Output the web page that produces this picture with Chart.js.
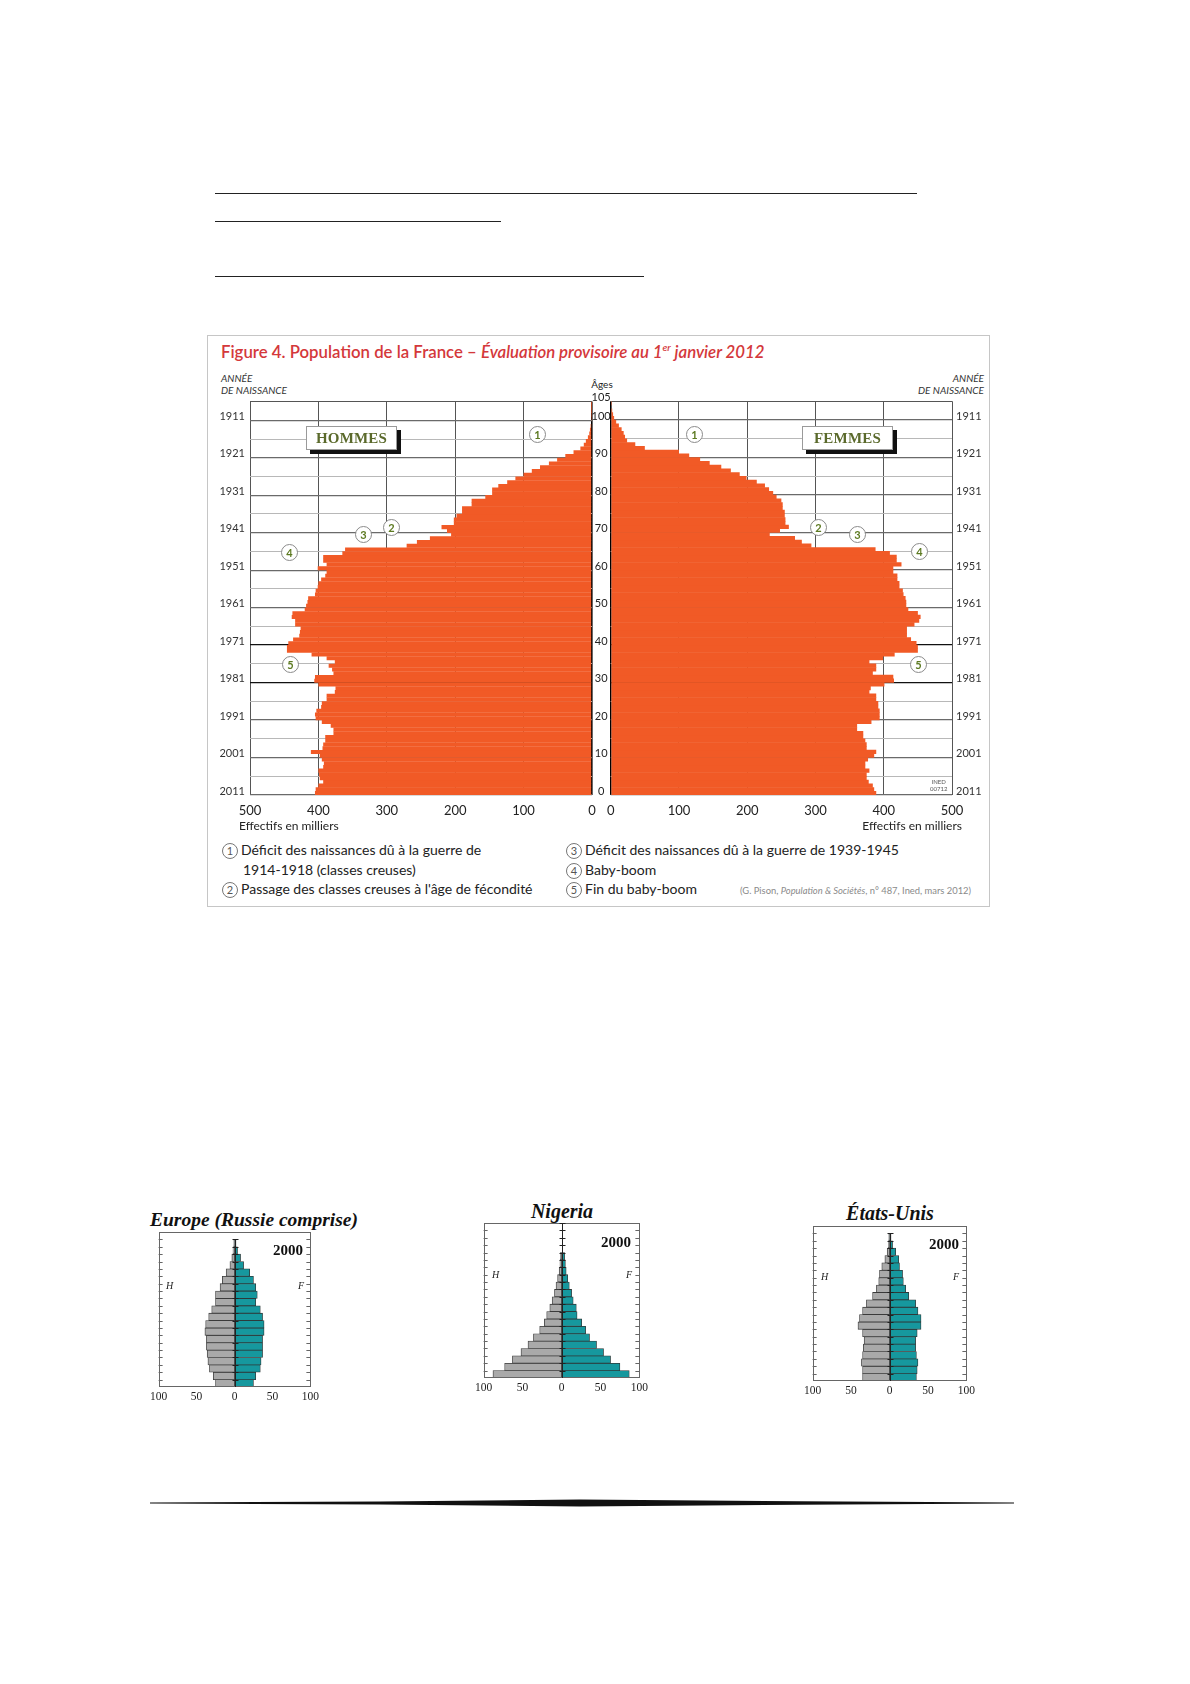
<!DOCTYPE html>
<html><head><meta charset="utf-8">
<script src="https://cdn.jsdelivr.net/npm/chart.js@4"></script>
<style>
body{margin:0;background:#fff;}
#page{position:relative;width:1190px;height:1684px;overflow:hidden;font-family:Lato,"Open Sans",sans-serif;color:#222;}
.a{position:absolute;white-space:nowrap;}
.hl{position:absolute;height:1px;background:#222;}
canvas{position:absolute;}
.tag{position:absolute;background:#fff;border:1px solid #9a9a9a;box-shadow:4px 4px 0 #111;font-family:"Liberation Serif","DejaVu Serif",serif;font-weight:700;font-size:15px;color:#5b6a2c;text-align:center;line-height:22px;letter-spacing:0.2px;z-index:5;}
.c{position:absolute;width:15px;height:15px;border:1px solid #8a8a8a;border-radius:50%;background:#fff;color:#5d7a22;font-size:11px;font-weight:700;line-height:15px;text-align:center;z-index:5;}
.lc{display:inline-block;width:14px;height:14px;border:1px solid #777;border-radius:50%;font-size:11px;line-height:14px;text-align:center;color:#555;margin-right:3px;vertical-align:0px;}
.leg{position:absolute;font-size:14px;line-height:18px;color:#222;white-space:nowrap;}
.st{position:absolute;font-family:"Liberation Serif","DejaVu Serif",serif;font-weight:700;font-style:italic;font-size:20px;color:#111;white-space:nowrap;}
.yr{position:absolute;font-family:"Liberation Serif","DejaVu Serif",serif;font-weight:700;font-size:15px;color:#111;line-height:16px;}
.hf{position:absolute;font-family:"Liberation Serif","DejaVu Serif",serif;font-style:italic;font-size:10px;color:#222;}
</style></head><body><div id="page">

<div class="hl" style="left:215px;top:193px;width:702px;"></div>
<div class="hl" style="left:215px;top:221px;width:286px;"></div>
<div class="hl" style="left:215px;top:276px;width:429px;"></div>

<div class="a" style="left:207px;top:335px;width:781px;height:570px;border:1px solid #c6c6c6;"></div>
<div class="a" style="left:221px;top:336px;font-size:16.8px;font-weight:600;line-height:22px;color:#d4383b;">Figure 4. Population de la France – <i>Évaluation provisoire au 1<sup style="font-size:10px;">er</sup> janvier 2012</i></div>
<div class="a" style="left:221px;top:372px;font-size:10px;line-height:12px;font-style:italic;color:#333;">ANNÉE<br>DE NAISSANCE</div>
<div class="a" style="left:864px;width:120px;top:372px;font-size:10px;line-height:12px;font-style:italic;color:#333;text-align:right;">ANNÉE<br>DE NAISSANCE</div>
<div class="a" style="left:588px;width:28px;top:378px;font-size:10px;line-height:12px;text-align:center;color:#222;">Âges</div>

<canvas id="cL" width="412" height="440" style="left:200px;top:390px;"></canvas>
<canvas id="cR" width="397" height="440" style="left:592px;top:390px;"></canvas>

<div class="tag" style="left:306px;top:426px;width:89px;height:22px;">HOMMES</div>
<div class="tag" style="left:802px;top:426px;width:89px;height:22px;">FEMMES</div>

<div class="c" style="left:529px;top:426px;">1</div>
<div class="c" style="left:383px;top:519px;">2</div>
<div class="c" style="left:355px;top:526px;">3</div>
<div class="c" style="left:281px;top:544px;">4</div>
<div class="c" style="left:282px;top:656px;">5</div>
<div class="c" style="left:686px;top:426px;">1</div>
<div class="c" style="left:810px;top:519px;">2</div>
<div class="c" style="left:849px;top:526px;">3</div>
<div class="c" style="left:911px;top:543px;">4</div>
<div class="c" style="left:910px;top:656px;">5</div>

<div class="a" style="left:930px;top:778px;font-size:6px;line-height:7px;color:#555;text-align:center;">INED<br>00712</div>

<div class="a" style="left:239px;top:819px;font-size:12px;line-height:14px;color:#222;">Effectifs en milliers</div>
<div class="a" style="left:842px;width:120px;top:819px;font-size:12px;line-height:14px;color:#222;text-align:right;">Effectifs en milliers</div>

<div class="leg" style="left:222px;top:841px;"><span class="lc">1</span>Déficit des naissances dû à la guerre de</div>
<div class="leg" style="left:243px;top:861px;">1914-1918 (classes creuses)</div>
<div class="leg" style="left:222px;top:880px;"><span class="lc">2</span>Passage des classes creuses à l'âge de fécondité</div>
<div class="leg" style="left:566px;top:841px;"><span class="lc">3</span>Déficit des naissances dû à la guerre de 1939-1945</div>
<div class="leg" style="left:566px;top:861px;"><span class="lc">4</span>Baby-boom</div>
<div class="leg" style="left:566px;top:880px;"><span class="lc">5</span>Fin du baby-boom</div>
<div class="a" style="left:740px;top:885px;font-size:9.4px;line-height:11px;color:#8a8a8a;">(G. Pison, <i>Population &amp; Sociétés</i>, n° 487, Ined, mars 2012)</div>

<div class="st" style="left:150px;top:1207px;line-height:26px;font-size:19.5px;">Europe (Russie comprise)</div>
<div class="st" style="left:462px;width:200px;text-align:center;top:1198px;line-height:26px;">Nigeria</div>
<div class="st" style="left:790px;width:200px;text-align:center;top:1200px;line-height:26px;">États-Unis</div>

<canvas id="sE" width="175" height="176" style="left:147px;top:1232px;"></canvas>
<canvas id="sN" width="179" height="176" style="left:472px;top:1223px;"></canvas>
<canvas id="sU" width="177" height="176" style="left:801px;top:1226px;"></canvas>

<div class="yr" style="left:273px;top:1242px;">2000</div>
<div class="yr" style="left:601px;top:1234px;">2000</div>
<div class="yr" style="left:929px;top:1236px;">2000</div>
<div class="hf" style="left:166px;top:1280px;">H</div>
<div class="hf" style="left:298px;top:1280px;">F</div>
<div class="hf" style="left:492px;top:1269px;">H</div>
<div class="hf" style="left:626px;top:1269px;">F</div>
<div class="hf" style="left:821px;top:1271px;">H</div>
<div class="hf" style="left:953px;top:1271px;">F</div>

<svg class="a" style="left:0;top:0;" width="1190" height="1684"><polygon points="150,1502.6 380,1501.4 580,1499.6 800,1501.2 1014,1502.4 1014,1503.6 800,1504.8 580,1506.4 380,1504.6 150,1503.4" fill="#111"/></svg>

</div>
<script>
// ---- Main pyramid (France, 1 Jan 2012), thousands ----
const ages = [0,1,2,3,4,5,6,7,8,9,10,11,12,13,14,15,16,17,18,19,20,21,22,23,24,25,26,27,28,29,30,31,32,33,34,35,36,37,38,39,40,41,42,43,44,45,46,47,48,49,50,51,52,53,54,55,56,57,58,59,60,61,62,63,64,65,66,67,68,69,70,71,72,73,74,75,76,77,78,79,80,81,82,83,84,85,86,87,88,89,90,91,92,93,94,95,96,97,98,99,100,101,102,103,104];
const hommes = [405,404,400,393,398,399,400,393,392,395,398,411,394,393,390,390,378,378,382,395,404,405,403,396,395,388,388,376,375,400,406,405,378,380,385,376,388,410,446,446,444,437,428,427,426,434,434,439,438,420,418,416,415,405,404,401,400,396,390,388,401,388,393,393,365,361,271,256,237,206,212,220,202,202,198,190,190,176,176,156,146,146,137,124,112,100,88,76,63,51,39,27,17,12,9,6,4,3,2,1.2,0.6,0.4,0.2,0.1,0.05];
const femmes = [389,386,384,378,375,375,379,373,373,377,386,389,375,375,373,370,370,361,361,382,394,394,394,392,392,389,389,379,381,401,415,414,384,389,389,379,399,416,450,450,448,440,434,434,434,445,452,454,450,436,433,433,432,429,428,423,423,420,420,414,414,426,419,419,409,388,294,280,270,233,248,261,256,256,255,255,252,252,250,243,238,232,226,214,199,189,176,162,145,131,115,100,50,36,24,21,19,16,12,8,5,3.5,2.2,1.2,0.5];
const effectifTicks = [0,100,200,300,400,500];
const gridAges = [0,5,10,15,20,25,30,35,40,45,50,55,60,65,70,75,80,85,90,95,100,105];
const yearAges = [0,10,20,30,40,50,60,70,80,90,100];
const yearLabels = ['2011','2001','1991','1981','1971','1961','1951','1941','1931','1921','1911'];
const ageLabelAges = [0,10,20,30,40,50,60,70,80,90,100,105];
const ageLabels = ['0','10','20','30','40','50','60','70','80','90','100','105'];

// ---- Small pyramids (2000), 5-year groups, bottom to top ----
const bins = ['0-4','5-9','10-14','15-19','20-24','25-29','30-34','35-39','40-44','45-49','50-54','55-59','60-64','65-69','70-74','75-79','80-84','85-89','90-94','95-99','100+'];
const europeH = [25,28,33,35,36,37,37,39,38,34,30,25,25,19,16,11,6,3.5,2,1,0];
const europeF = [25,28,34,35,37,37,37,39,39,37,34,28,30,28,25,20,12,8,4,2,0];
const nigeriaH = [88,73,63,52,43,36,28,22,19,15,12,9,7,5,3,2,1.5,0,0,0,0];
const nigeriaF = [87,75,63,54,45,36,31,26,20,19,15,13,10,8,6,5,4,0,0,0,0];
const usaH = [35,35,36.5,35,34,33,35,41,39,35,30,22,17,14,13,10,6,3,1.5,1,0];
const usaF = [35,36,37,35,34,34,36,41,41,37,34,25,21,18,17,13,12,8,4,2,0];
const smallTicks = [-100,-50,0,50,100];

Chart.defaults.font.family = "Lato, 'Open Sans', sans-serif";
const ORANGE = '#f15a26';

function hGridColor(v){ if(v===105) return '#555'; if(v%10===0) return (v===30||v===40)?'#111':'#6a6a6a'; return '#b8b8b8'; }
function hGridWidth(v){ return (v%10===0)?1.3:1; }
function vGridColor(v){ return v===0?'#000':'#555'; }
function vGridWidth(v){ return v===0?1.6:1; }

function mainChart(id, values, left){
  const ds = {data: ages.map((a,i)=>({x:values[i], y:a+0.5})), backgroundColor:ORANGE, borderWidth:0, barPercentage:1.08, categoryPercentage:1};
  const xScale = {type:'linear',min:0,max:500,reverse:left,
    afterBuildTicks:s=>{s.ticks=effectifTicks.map(v=>({value:v}));},
    ticks:{font:{size:13},color:'#222',padding:8,maxRotation:0,autoSkip:false},
    grid:{color:c=>vGridColor(c.tick.value),lineWidth:c=>vGridWidth(c.tick.value),drawTicks:false},
    border:{display:false}, afterFit:s=>{s.height=35;}};
  const yearScale = (pos,w,pad)=>({type:'linear',position:pos,min:0,max:105,offset:false,
    afterBuildTicks:s=>{s.ticks=gridAges.map(v=>({value:v}));},
    ticks:{autoSkip:false,font:{size:11},color:'#333',padding:pad,labelOffset:-4,
      callback:v=>{const i=yearAges.indexOf(v);return i>=0?yearLabels[i]:'';}},
    grid:{offset:false,color:c=>hGridColor(c.tick.value),lineWidth:c=>hGridWidth(c.tick.value),drawTicks:false},
    border:{display:false}, afterFit:s=>{s.width=w;}});
  let scales;
  if(left){
    scales = {x:xScale, y:yearScale('left',50,5)};
  } else {
    scales = {x:xScale,
      y:{type:'linear',position:'left',min:0,max:105,offset:false,
        afterBuildTicks:s=>{s.ticks=ageLabelAges.map(v=>({value:v}));},
        ticks:{autoSkip:false,font:{size:11},color:'#222',padding:0,labelOffset:-4,crossAlign:'center',
          callback:v=>{const i=ageLabelAges.indexOf(v);return i>=0?ageLabels[i]:'';}},
        grid:{display:false,drawTicks:false,offset:false}, border:{display:false}, afterFit:s=>{s.width=18.7;}},
      y2:yearScale('right',37,4)};
  }
  new Chart(document.getElementById(id),{type:'bar',data:{datasets:[ds]},
    options:{indexAxis:'y',responsive:false,animation:false,
      layout:{padding:{top:11.25,left:0,right:left?20:0,bottom:0},autoPadding:false},
      plugins:{legend:{display:false},tooltip:{enabled:false}},
      scales}});
}
mainChart('cL', hommes, true);
mainChart('cR', femmes, false);

const boxPlugin = {
  id:'boxTicks',
  afterDatasetsDraw(chart, args, opts){
    const {ctx, chartArea:a, scales:{x}} = chart;
    const n = bins.length, h = a.height/n;
    ctx.save();
    ctx.strokeStyle='#666'; ctx.lineWidth=1;
    ctx.strokeRect(Math.round(a.left)+0.5, Math.round(a.top)+0.5, Math.round(a.width)-1, Math.round(a.height)-1);
    ctx.beginPath();
    for(let i=1;i<n;i++){
      const yy = Math.round(a.top + i*h)+0.5;
      ctx.moveTo(a.left, yy); ctx.lineTo(a.left+4, yy);
      ctx.moveTo(a.right-4, yy); ctx.lineTo(a.right, yy);
    }
    ctx.stroke();
    const x0 = Math.round(x.getPixelForValue(0))+0.5;
    const topIdx = opts.axisTop;
    ctx.strokeStyle='#222';
    ctx.beginPath();
    ctx.moveTo(x0, a.top + (n-topIdx)*h); ctx.lineTo(x0, a.bottom);
    for(let i=n-topIdx;i<n;i++){
      const yy = Math.round(a.top + i*h)+0.5;
      ctx.moveTo(x0-3, yy); ctx.lineTo(x0+3, yy);
    }
    ctx.stroke();
    ctx.restore();
  }
};

function smallChart(id, men, women, axisTop){
  new Chart(document.getElementById(id),{type:'bar',
    data:{labels:bins,datasets:[
      {data:men.map(v=>-v),backgroundColor:'#a9a9a9',borderColor:'#3a3a3a',borderWidth:0.8,borderSkipped:false,barPercentage:1,categoryPercentage:1},
      {data:women,backgroundColor:'#16989e',borderColor:'#2e3a3a',borderWidth:0.8,borderSkipped:false,barPercentage:1,categoryPercentage:1}]},
    options:{indexAxis:'y',responsive:false,animation:false,
      layout:{padding:{top:0,left:10,right:10,bottom:0},autoPadding:false},
      plugins:{legend:{display:false},tooltip:{enabled:false},boxTicks:{axisTop}},
      scales:{
        x:{type:'linear',min:-100,max:100,stacked:true,
          afterBuildTicks:s=>{s.ticks=smallTicks.map(v=>({value:v}));},
          ticks:{font:{family:"'Liberation Serif', serif",size:11.5},color:'#222',padding:3,maxRotation:0,autoSkip:false,callback:v=>String(Math.abs(v))},
          grid:{display:false,drawTicks:false},border:{display:false},afterFit:s=>{s.height=21;}},
        y:{type:'category',reverse:true,stacked:true,display:false}
      }},
    plugins:[boxPlugin]});
}
smallChart('sE', europeH, europeF, 20);
smallChart('sN', nigeriaH, nigeriaF, 21);
smallChart('sU', usaH, usaF, 20);
</script>
</body></html>
